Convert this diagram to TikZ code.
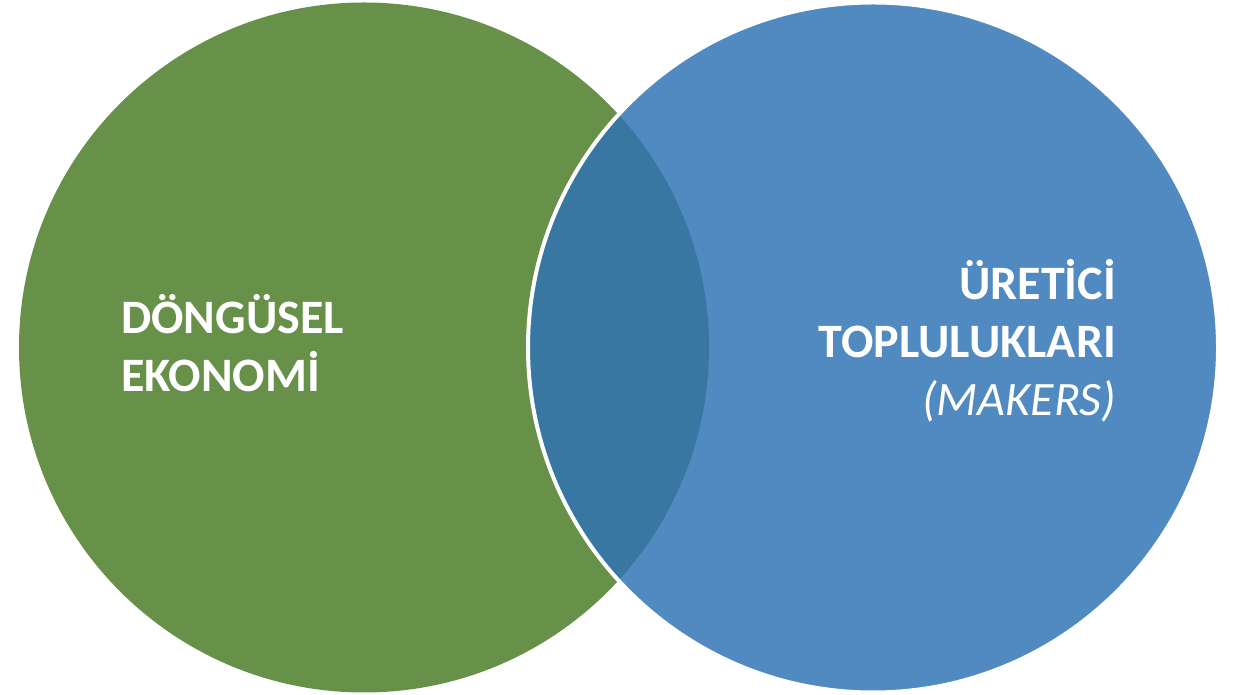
\documentclass[tikz,border=0pt]{standalone}
\usepackage{fontspec}
\setmainfont{Carlito}
\definecolor{ecogreen}{RGB}{103,144,73}
\definecolor{makerblue}{RGB}{46,115,180}

\begin{document}
\begin{tikzpicture}[x=1pt, y=1pt,
  ring/.style={circle, minimum size=690pt, inner sep=0pt},
  label/.style={text=white, inner sep=0pt, font=\fontsize{48}{58}\selectfont}]
  \useasboundingbox (0,0) rectangle (1233,695);
  \node[ring, fill=ecogreen] (eco) at (364,347.5) {};
  \node[ring, fill=makerblue, fill opacity=0.84, draw=white, line width=4pt] (maker) at (873,347.5) {};
  % base anchor sits on the last line
  \node[label, anchor=base west, align=left] (ecotext) at (121,303)
    {\bfseries DÖNGÜSEL\\\bfseries EKONOMİ};
  \node[label, anchor=base east, align=right] (makertext) at (1116,279)
    {\bfseries ÜRETİCİ\\\bfseries TOPLULUKLARI\\\itshape (MAKERS)};
\end{tikzpicture}
\end{document}
